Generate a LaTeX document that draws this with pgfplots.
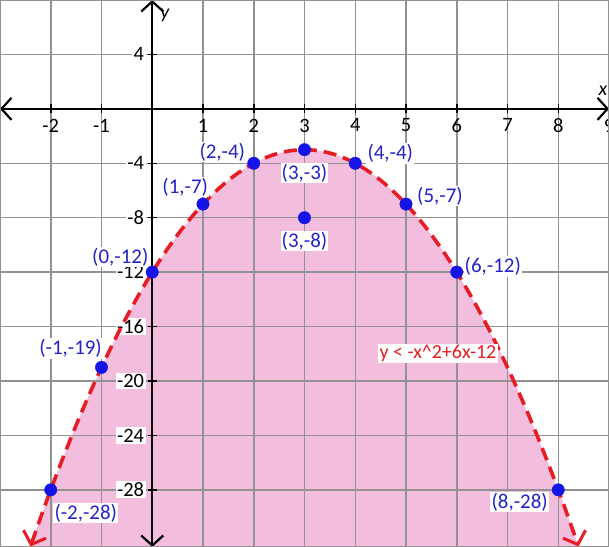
\documentclass[border=0pt]{standalone}
\usepackage{pgfplots}
\pgfplotsset{compat=1.18}
\usepackage{fontspec}
\setmainfont{Carlito}
\usetikzlibrary{arrows.meta}
\definecolor{pinkfill}{RGB}{243,190,221}
\definecolor{curvered}{RGB}{232,28,36}
\definecolor{ptblue}{RGB}{20,20,230}
\definecolor{lblblue}{RGB}{35,35,200}
\definecolor{gridgray}{RGB}{145,145,145}
\begin{document}
\begin{tikzpicture}
\begin{axis}[
  name=ax,
  set layers,
  width=609bp, height=547bp, scale only axis,
  xmin=-3, xmax=9, ymin=-32.2, ymax=8,
  axis lines=middle,
  axis line style={black, line width=2.2bp, {Straight Barb[length=10bp,width=22bp,line width=2.2bp]}-{Straight Barb[length=10bp,width=22bp,line width=2.2bp]}},
  xtick={-2,-1,1,2,3,4,5,6,7,8,9},
  ytick={-28,-24,-20,-16,-12,-8,-4,4},
  extra x ticks={0}, extra x tick labels={},
  grid=major,
  grid style={gridgray, line width=1.5bp},
  major tick length=9bp,
  tick style={black, line width=1.5bp},
  /pgf/number format/assume math mode=true,
  ticklabel style={font=\fontsize{20.5}{24}\selectfont, text=black},
  xticklabel style={yshift=-2bp},
  yticklabel style={fill=white, inner sep=1.5bp, xshift=-2bp},
  clip=true,
]
% shaded region
\addplot[on layer=axis background, fill=pinkfill, draw=none] coordinates {
(-2.4,-32.16) (-2.1,-29.01) (-1.8,-26.04) (-1.5,-23.25) (-1.2,-20.64) (-0.9,-18.21)
(-0.6,-15.96) (-0.3,-13.89) (0,-12) (0.3,-10.29) (0.6,-8.76) (0.9,-7.41)
(1.2,-6.24) (1.5,-5.25) (1.8,-4.44) (2.1,-3.81) (2.4,-3.36) (2.7,-3.09) (3,-3)
(3.3,-3.09) (3.6,-3.36) (3.9,-3.81) (4.2,-4.44) (4.5,-5.25) (4.8,-6.24)
(5.1,-7.41) (5.4,-8.76) (5.7,-10.29) (6,-12) (6.3,-13.89) (6.6,-15.96)
(6.9,-18.21) (7.2,-20.64) (7.5,-23.25) (7.8,-26.04) (8.1,-29.01) (8.4,-32.16)
(8.4,-33) (-2.4,-33)};
% boundary curve
\addplot[curvered, line width=3.6bp, dash pattern=on 13bp off 7bp, smooth,
  {Straight Barb[length=11bp,width=24bp,line width=3bp]}-{Straight Barb[length=11bp,width=24bp,line width=3bp]}] coordinates {
(-2.4,-32.16) (-2.1,-29.01) (-1.8,-26.04) (-1.5,-23.25) (-1.2,-20.64) (-0.9,-18.21)
(-0.6,-15.96) (-0.3,-13.89) (0,-12) (0.3,-10.29) (0.6,-8.76) (0.9,-7.41)
(1.2,-6.24) (1.5,-5.25) (1.8,-4.44) (2.1,-3.81) (2.4,-3.36) (2.7,-3.09) (3,-3)
(3.3,-3.09) (3.6,-3.36) (3.9,-3.81) (4.2,-4.44) (4.5,-5.25) (4.8,-6.24)
(5.1,-7.41) (5.4,-8.76) (5.7,-10.29) (6,-12) (6.3,-13.89) (6.6,-15.96)
(6.9,-18.21) (7.2,-20.64) (7.5,-23.25) (7.8,-26.04) (8.1,-29.01) (8.4,-32.16)};
% points
\addplot[only marks, mark=*, mark size=6.2bp, ptblue] coordinates {
(-2,-28) (-1,-19) (0,-12) (1,-7) (2,-4) (3,-3) (3,-8) (4,-4) (5,-7) (6,-12) (8,-28)};
% labels
\begin{scope}[every node/.style={font=\fontsize{21}{24}\selectfont, text=lblblue, fill=white, inner sep=1.2bp}]
\node at (axis cs:1.38,-3.17) {(2,-4)};
\node at (axis cs:0.65,-5.74) {(1,-7)};
\node at (axis cs:-0.63,-10.9) {(0,-12)};
\node at (axis cs:-1.61,-17.6) {(-1,-19)};
\node at (axis cs:-1.31,-29.7) {(-2,-28)};
\node at (axis cs:3,-4.7) {(3,-3)};
\node at (axis cs:3,-9.7) {(3,-8)};
\node at (axis cs:4.69,-3.3) {(4,-4)};
\node at (axis cs:5.67,-6.4) {(5,-7)};
\node at (axis cs:6.71,-11.6) {(6,-12)};
\node at (axis cs:7.24,-28.9) {(8,-28)};
\end{scope}
\node[font=\fontsize{20}{24}\selectfont, text=curvered, fill=white, inner sep=1.2bp] at (axis cs:5.63,-17.97) {y < -x\^{}2+6x-12};
\node[font=\fontsize{20}{24}\selectfont\itshape] at (axis cs:0.25,6.9) {y};
\node[font=\fontsize{20}{24}\selectfont\itshape] at (axis cs:8.88,1.3) {x};
\draw[gridgray, line width=2.5bp] (rel axis cs:0,0) rectangle (rel axis cs:1,1);
\end{axis}
\pgfresetboundingbox
\useasboundingbox (ax.south west) rectangle (ax.north east);
\end{tikzpicture}
\end{document}
